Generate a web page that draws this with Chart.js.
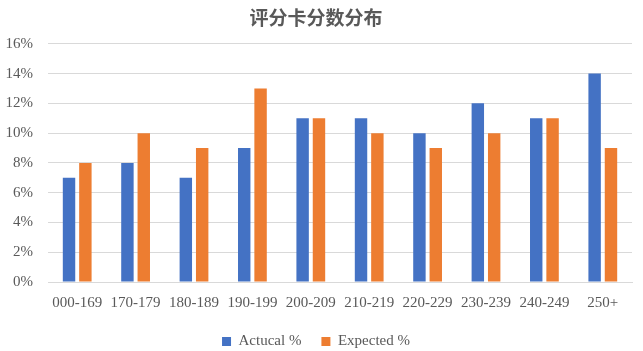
<!DOCTYPE html>
<html>
<head>
<meta charset="utf-8">
<script src="https://cdn.jsdelivr.net/npm/chart.js@4"></script>
<style>
    html, body { margin: 0; padding: 0; background: #ffffff; }
    #wrap { width: 643px; height: 351px; }
</style>
</head>
<body>
<div id="wrap"><canvas id="scoreChart" width="643" height="351"></canvas></div>
<script>
// Chart data
const categories = ['000-169', '170-179', '180-189', '190-199', '200-209', '210-219', '220-229', '230-239', '240-249', '250+'];
const actualValues = [7, 8, 7, 9, 11, 11, 10, 12, 11, 14];
const expectedValues = [8, 10, 9, 13, 11, 10, 9, 10, 11, 9];
const seriesNames = ['Actucal %', 'Expected %'];

const serifFont = "'Liberation Serif', 'DejaVu Serif', serif";

const ctx = document.getElementById('scoreChart').getContext('2d');
new Chart(ctx, {
    type: 'bar',
    data: {
        labels: categories,
        datasets: [{
            label: seriesNames[0],
            data: actualValues,
            backgroundColor: '#4472C4',
            categoryPercentage: 0.56,
            barPercentage: 0.76
        }, {
            label: seriesNames[1],
            data: expectedValues,
            backgroundColor: '#ED7D31',
            categoryPercentage: 0.56,
            barPercentage: 0.76
        }]
    },
    options: {
        responsive: false,
        animation: false,
        layout: {
            padding: { left: 0, right: 11, top: 4, bottom: -8 }
        },
        plugins: {
            title: {
                display: true,
                text: '评分卡分数分布',
                color: '#595959',
                font: { family: "'Noto Sans CJK SC', sans-serif", size: 19, weight: 'bold' },
                padding: { top: 2, bottom: 15 }
            },
            legend: {
                position: 'bottom',
                labels: {
                    boxWidth: 9,
                    boxHeight: 9,
                    color: '#595959',
                    padding: 20,
                    font: { family: serifFont, size: 15 }
                }
            },
            tooltip: { enabled: false }
        },
        scales: {
            x: {
                grid: { display: false },
                border: { color: '#d9d9d9' },
                ticks: {
                    color: '#595959',
                    maxRotation: 0,
                    autoSkip: false,
                    padding: 4,
                    font: { family: serifFont, size: 15 }
                },
                afterFit: axis => { axis.height = 32; }
            },
            y: {
                min: 0,
                max: 16,
                border: { display: false },
                grid: { color: '#d9d9d9', drawTicks: false },
                ticks: {
                    stepSize: 2,
                    color: '#595959',
                    padding: 15,
                    font: { family: serifFont, size: 15 },
                    callback: value => value + '%'
                },
                afterFit: axis => { axis.width = 48; }
            }
        }
    }
});
</script>
</body>
</html>
